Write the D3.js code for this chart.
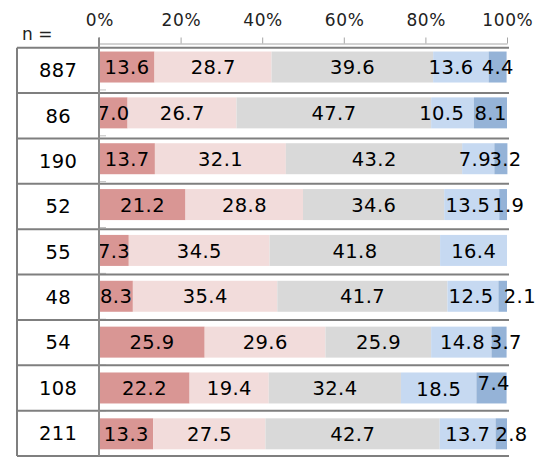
<!DOCTYPE html>
<html>
<head>
<meta charset="utf-8">
<script src="https://cdn.jsdelivr.net/npm/d3@7"></script>
<style>
  body { margin: 0; background: #fff; }
  svg { font-family: "DejaVu Sans", Verdana, sans-serif; }
</style>
</head>
<body>
<svg id="chart" width="548" height="457"></svg>
<script>
// sample sizes, one row each
const counts = ['887', '86', '190', '52', '55', '48', '54', '108', '211'];
// five answer levels, share in %
const level1 = [13.6, 7.0, 13.7, 21.2, 7.3, 8.3, 25.9, 22.2, 13.3];
const level2 = [28.7, 26.7, 32.1, 28.8, 34.5, 35.4, 29.6, 19.4, 27.5];
const level3 = [39.6, 47.7, 43.2, 34.6, 41.8, 41.7, 25.9, 32.4, 42.7];
const level4 = [13.6, 10.5, 7.9, 13.5, 16.4, 12.5, 14.8, 18.5, 13.7];
const level5 = [4.4, 8.1, 3.2, 1.9, 0, 2.1, 3.7, 7.4, 2.8];
const levelColors = ['#d99694', '#f2dcdb', '#d9d9d9', '#c6d9f1', '#95b3d7'];
const xTicks = [0, 20, 40, 60, 80, 100];

// hand-moved data labels (row, level, dx, dy) as in the original
const labelNudge = [
  [0, 3, -10, 0], [1, 3, -11, 0], [2, 3, -3.5, 0], [2, 4, 4.5, 0],
  [3, 3, -4, 0], [3, 4, 5, 0], [5, 3, -2, 0], [5, 4, 17, 0],
  [6, 3, 1, 0], [6, 4, 6.5, 0], [7, 3, 0, 1], [7, 4, 2, -5], [8, 4, 10, 0]
];

const svg = d3.select('#chart');
const levels = [level1, level2, level3, level4, level5];
const FS = 19.5, LS = 0.4;

const nudge = (i, k) => {
  const m = labelNudge.find(d => d[0] === i && d[1] === k);
  return m ? m : [i, k, 0, 0];
};

const rows = counts.map((n, i) => {
  let acc = 0;
  const segs = levels.map((arr, k) => {
    const s = {i: i, k: k, x0: acc, v: arr[i]};
    acc += arr[i];
    s.x1 = acc;
    return s;
  });
  return {n: n, i: i, segs: segs};
});

const x = d3.scaleLinear().domain([0, 100]).range([99, 507]);
const y = d3.scaleBand().domain(d3.range(counts.length))
  .range([44.1, 44.1 + 9 * 45.85]).paddingInner(0.324).paddingOuter(0.162);

// table rows (slightly different pitch than the plot bands)
const tTop = 47.7, tStep = 45.37;
const rowTop = i => tTop + i * tStep;

// bars
const rowG = svg.selectAll('g.row').data(rows).join('g').attr('class', 'row');
rowG.selectAll('rect').data(d => d.segs)
  .join('rect')
  .attr('x', s => x(s.x0))
  .attr('width', s => x(s.x1) - x(s.x0))
  .attr('y', s => y(s.i))
  .attr('height', y.bandwidth())
  .attr('fill', s => levelColors[s.k]);

// category axis ticks at band boundaries
svg.append('g').selectAll('line').data(d3.range(1, counts.length))
  .join('line')
  .attr('x1', 99).attr('x2', 106)
  .attr('y1', i => 44.1 + i * y.step()).attr('y2', i => 44.1 + i * y.step())
  .attr('stroke', '#bfbfbf').attr('stroke-width', 1);

// top axis
const xAxis = svg.append('g').attr('transform', 'translate(0,43.5)')
  .call(d3.axisTop(x).tickValues(xTicks).tickFormat(d => d + '%').tickSize(6).tickSizeOuter(0));
xAxis.select('.domain').attr('stroke', '#a6a6a6');
xAxis.selectAll('.tick line').attr('stroke', '#a6a6a6');
xAxis.selectAll('.tick text').attr('y', -17.5).attr('dy', 0).attr('dx', 0.3)
  .attr('font-size', 17).attr('letter-spacing', 0.6).attr('font-family', '"DejaVu Sans", sans-serif').attr('fill', '#222');

// table lines
const tbl = svg.append('g').attr('stroke', '#7f7f7f').attr('stroke-width', 2);
tbl.selectAll('line.h').data(d3.range(counts.length + 1)).join('line')
  .attr('class', 'h')
  .attr('x1', 17).attr('x2', 509)
  .attr('y1', i => Math.min(rowTop(i), 456)).attr('y2', i => Math.min(rowTop(i), 456));
tbl.append('line').attr('x1', 17).attr('x2', 17).attr('y1', rowTop(0)).attr('y2', 456);
tbl.append('line').attr('x1', 99).attr('x2', 99).attr('y1', 37.5).attr('y2', 456)
  .attr('stroke', '#8c8c8c');

// n labels
svg.append('text').attr('x', 22).attr('y', 40).attr('font-size', 17)
  .attr('fill', '#222').text('n =');
svg.selectAll('text.n').data(rows).join('text')
  .attr('class', 'n')
  .attr('x', 58 + LS / 2).attr('y', d => rowTop(d.i) + tStep / 2 + 6.8)
  .attr('text-anchor', 'middle').attr('font-size', FS).attr('letter-spacing', LS).attr('fill', '#000')
  .text(d => d.n);

// value labels
rowG.selectAll('text').data(d => d.segs.filter(s => s.v > 0))
  .join('text')
  .attr('x', s => x((s.x0 + s.x1) / 2) + LS / 2 + nudge(s.i, s.k)[2])
  .attr('y', s => y(s.i) + y.bandwidth() / 2 + 7.1 + nudge(s.i, s.k)[3])
  .attr('text-anchor', 'middle').attr('font-size', FS).attr('letter-spacing', LS).attr('fill', '#000')
  .text(s => s.v.toFixed(1));
</script>
</body>
</html>
